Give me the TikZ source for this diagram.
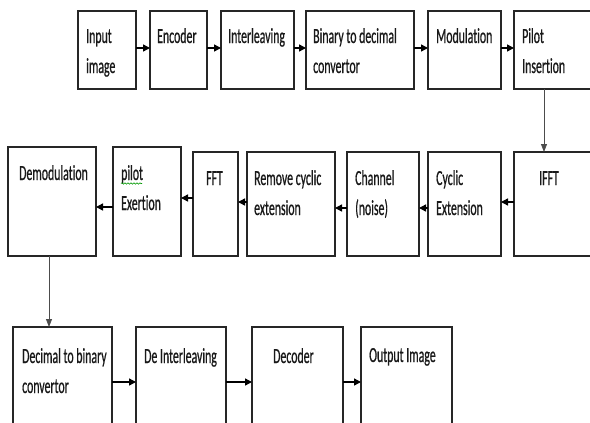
\documentclass[tikz,border=0pt]{standalone}
\usepackage{fontspec}
\setmainfont{Carlito}[FakeStretch=0.55, FakeBold=0.6, Ligatures={NoCommon}]
\usetikzlibrary{arrows.meta,decorations.pathmorphing}
\tikzset{
  box/.style={draw=black!85, line width=1.2pt, inner sep=0pt, outer sep=0pt, anchor=north west, fill=white},
  txt/.style={anchor=base west, inner sep=0pt, text=black!90, font=\fontsize{21.5}{30}\selectfont},
  arr/.style={line width=1.4pt, draw=black, -{Triangle[length=7pt,width=7pt]}},
  varr/.style={line width=0.8pt, draw=black!70, -{Triangle[length=8pt,width=6pt]}},
}
\newcommand{\tl}[1]{\begin{tabular}[t]{@{}l@{}}#1\end{tabular}}
\begin{document}
\begin{tikzpicture}[x=1pt,y=-1pt]
\useasboundingbox (0,0) rectangle (590,423);
\clip (0,0) rectangle (590,423);
% row 1
\node[box, minimum width=58pt, minimum height=78pt] (inp) at (78,11) {};
\node[box, minimum width=57pt, minimum height=78pt] (enc) at (150,11) {};
\node[box, minimum width=73pt, minimum height=78pt] (intl) at (221,11) {};
\node[box, minimum width=108pt, minimum height=78pt] (b2d) at (306,11) {};
\node[box, minimum width=73pt, minimum height=78pt] (mod) at (428,11) {};
\node[box, minimum width=90pt, minimum height=78pt] (pil) at (514,11) {};
% row 2
\node[box, minimum width=90pt, minimum height=104pt] (ifft) at (514,152) {};
\node[box, minimum width=73pt, minimum height=104pt] (cyc) at (428,152) {};
\node[box, minimum width=72pt, minimum height=104pt] (chan) at (347,152) {};
\node[box, minimum width=88pt, minimum height=104pt] (rem) at (247,152) {};
\node[box, minimum width=45pt, minimum height=104pt] (fft) at (193,152) {};
\node[box, minimum width=68pt, minimum height=109pt] (pex) at (113,147) {};
\node[box, minimum width=88pt, minimum height=109pt] (dem) at (8,147) {};
% row 3
\node[box, minimum width=99pt, minimum height=110pt] (d2b) at (13,327) {};
\node[box, minimum width=90pt, minimum height=110pt] (dint) at (136,327) {};
\node[box, minimum width=91pt, minimum height=110pt] (dec) at (252,327) {};
\node[box, minimum width=91pt, minimum height=110pt] (out) at (361,327) {};
% texts
\node[txt] (inp-t) at (86,43) {\tl{Input\\image}};
\node[txt] (enc-t) at (157,43) {\tl{Encoder}};
\node[txt] (intl-t) at (228,43) {\tl{Interleaving}};
\node[txt] (b2d-t) at (313,43) {\tl{Binary to decimal\\convertor}};
\node[txt] (mod-t) at (436,43) {\tl{Modulation}};
\node[txt] (pil-t) at (522,43) {\tl{Pilot\\Insertion}};
\node[txt] (ifft-t) at (539,185) {\tl{IFFT}};
\node[txt] (cyc-t) at (436,185) {\tl{Cyclic\\Extension}};
\node[txt] (chan-t) at (355,185) {\tl{Channel\\(noise)}};
\node[txt] (rem-t) at (254,185) {\tl{Remove cyclic\\extension}};
\node[txt] (fft-t) at (206,185) {\tl{FFT}};
\node[txt] (pex-t) at (121,180) {\tl{pilot\\Exertion}};
\node[txt] (dem-t) at (19,180) {\tl{Demodulation}};
\node[txt] (d2b-t) at (22,363) {\tl{Decimal to binary\\convertor}};
\node[txt] (dint-t) at (144,363) {\tl{De Interleaving}};
\node[txt] (dec-t) at (273,363) {\tl{Decoder}};
\node[txt] (out-t) at (369,362) {\tl{Output Image}};
% spell-check underline
\draw[green!60!black, line width=0.6pt, decorate, decoration={snake, amplitude=0.7pt, segment length=3pt}] (121,183.5) -- (142,183.5);
% row 1 arrows
\draw[arr] (inp.east |- 0,48) -- (enc.west |- 0,48);
\draw[arr] (enc.east |- 0,48) -- (intl.west |- 0,48);
\draw[arr] (intl.east |- 0,48) -- (b2d.west |- 0,48);
\draw[arr] (b2d.east |- 0,48) -- (mod.west |- 0,48);
\draw[arr] (mod.east |- 0,48) -- (pil.west |- 0,48);
% down to IFFT
\draw[varr] (pil.south -| 544,0) -- (ifft.north -| 544,0);
% row 2 arrows
\draw[arr] (ifft.west |- 0,202) -- (cyc.east |- 0,202);
\draw[arr] (cyc.west |- 0,208) -- (chan.east |- 0,208);
\draw[arr] (chan.west |- 0,208) -- (rem.east |- 0,208);
\draw[arr] (rem.west |- 0,202) -- (fft.east |- 0,202);
\draw[arr] (fft.west |- 0,198) -- (pex.east |- 0,198);
\draw[arr] (pex.west |- 0,207) -- (dem.east |- 0,207);
% down to decimal
\draw[varr] (dem.south -| 49,0) -- (d2b.north -| 49,0);
% row 3 arrows
\draw[arr] (d2b.east |- 0,382) -- (dint.west |- 0,382);
\draw[arr] (dint.east |- 0,382) -- (dec.west |- 0,382);
\draw[arr] (dec.east |- 0,382) -- (out.west |- 0,382);
\end{tikzpicture}
\end{document}
